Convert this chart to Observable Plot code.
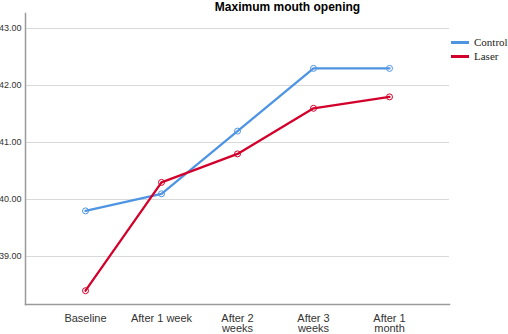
<!DOCTYPE html>
<html><head><meta charset="utf-8">
<script src="https://cdn.jsdelivr.net/npm/d3@7"></script>
<script src="https://cdn.jsdelivr.net/npm/@observablehq/plot@0.6"></script>
<style>
body{margin:0;background:#fff;}
#wrap{position:relative;width:508px;height:334px;overflow:hidden;background:#fff;}
#title{position:absolute;z-index:2;left:0;width:575px;top:0px;line-height:13px;text-align:center;font:bold 12px "Liberation Sans",Arial,sans-serif;color:#000;}
#legend{position:absolute;z-index:2;left:451px;top:35px;font:11px "Liberation Serif","Times New Roman",serif;color:#222;white-space:nowrap;}
#legend div{display:flex;align-items:center;height:14px;}
#legend span.sw{display:inline-block;width:18px;height:3px;margin-right:5px;}
</style></head>
<body><div id="wrap"><div id="title">Maximum mouth opening</div><div id="legend"></div></div>
<script>
const categories = ["Baseline", "After 1 week", "After 2\nweeks", "After 3\nweeks", "After 1\nmonth"];
const control = [39.8, 40.1, 41.2, 42.3, 42.3];
const laser = [38.4, 40.3, 40.8, 41.6, 41.8];
const yTicks = [39, 40, 41, 42, 43];
const seriesNames = ["Control", "Laser"];
const seriesColors = ["#4f94e3", "#d4002c"];

const rows = [];
categories.forEach((c, i) => {
  rows.push({cat: c, value: control[i], series: "Control"});
  rows.push({cat: c, value: laser[i], series: "Laser"});
});

const chart = Plot.plot({
  width: 508, height: 334,
  marginLeft: 25, marginRight: 59, marginTop: 13, marginBottom: 30,
  style: {fontFamily: "'Liberation Sans', Arial, sans-serif", background: "transparent"},
  x: {type: "point", domain: categories, padding: 0.775, label: null},
  y: {domain: [38.158, 43.263], label: null},
  color: {domain: seriesNames, range: seriesColors},
  marks: [
    Plot.ruleY(yTicks, {stroke: "#d9d9d9", strokeWidth: 1.2}),
    Plot.frame({anchor: "left", stroke: "#9a9a9a", strokeWidth: 1.5}),
    Plot.frame({anchor: "bottom", stroke: "#9a9a9a", strokeWidth: 1.5}),
    Plot.axisY({ticks: yTicks, tickSize: 0, tickPadding: 4, tickFormat: d => d.toFixed(2), fontSize: 9, fill: "#333"}),
    Plot.axisX({tickSize: 0, tickPadding: 10, fontSize: 11, fill: "#333", lineHeight: 0.95}),
    Plot.line(rows, {x: "cat", y: "value", z: "series", stroke: "series", strokeWidth: 2.3}),
    Plot.dot(rows, {x: "cat", y: "value", stroke: "series", fill: "none", r: 3, strokeWidth: 1})
  ]
});
const wrap = document.getElementById("wrap");
chart.style.position = "absolute"; chart.style.left = "0"; chart.style.top = "0"; chart.style.zIndex = "1";
wrap.appendChild(chart);

const legend = document.getElementById("legend");
seriesNames.forEach((n, i) => {
  const d = document.createElement("div");
  d.innerHTML = `<span class="sw" style="background:${seriesColors[i]}"></span>${n}`;
  legend.appendChild(d);
});
</script></body></html>
